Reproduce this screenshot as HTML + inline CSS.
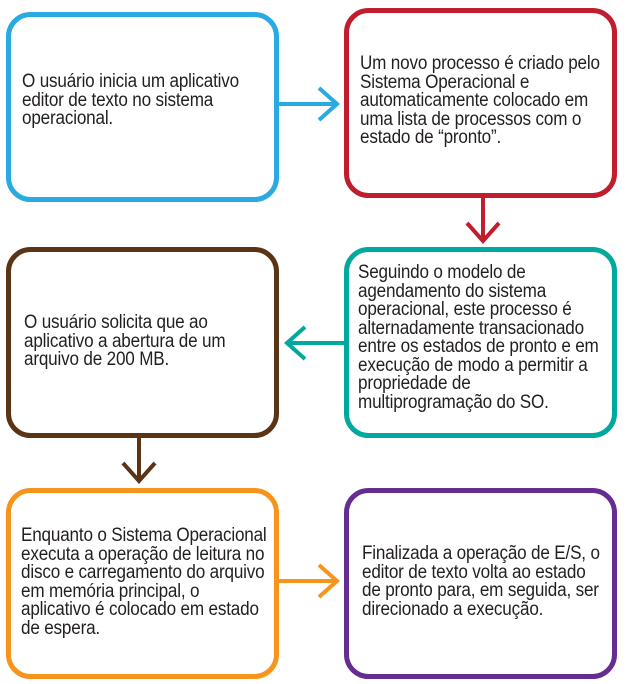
<!DOCTYPE html>
<html><head><meta charset="utf-8"><style>
body{margin:0;width:629px;height:684px;background:#fff;position:relative;overflow:hidden}
svg{position:absolute;left:0;top:0}
.t{position:absolute;font-family:"Liberation Sans",sans-serif;font-size:19px;line-height:18.5px;color:#231f20;letter-spacing:-0.2px;transform:scaleX(0.9);transform-origin:0 0;white-space:nowrap}
</style></head><body>
<svg width="629" height="684" viewBox="0 0 629 684" fill="none" stroke-width="5">
<rect x="8.5" y="14.5" width="268" height="185" rx="22" stroke="#29aae2"/>
<rect x="346.5" y="10.5" width="268" height="185" rx="22" stroke="#c01e2e"/>
<rect x="346.5" y="249.5" width="268" height="186" rx="22" stroke="#00a99d"/>
<rect x="8.5" y="249.5" width="268" height="186" rx="22" stroke="#5a3415"/>
<rect x="8.5" y="490.5" width="268" height="186" rx="22" stroke="#f7941d"/>
<rect x="346.5" y="490.5" width="268" height="186" rx="22" stroke="#662d91"/>
<g stroke-width="4" stroke-linecap="butt">
<path d="M278 104H337M319 88L337 104L319 120" stroke="#29aae2"/>
<path d="M483 198V241M467 223L483 241L499 223" stroke="#c01e2e"/>
<path d="M345 343H287M305 327L287 343L305 359" stroke="#00a99d"/>
<path d="M139 437V481M123 463L139 481L155 463" stroke="#5a3415"/>
<path d="M278 581H337M319 565L337 581L319 597" stroke="#f7941d"/>
</g>
</svg>
<div class="t" style="left:22px;top:73px">O usuário inicia um aplicativo<br>editor de texto no sistema<br>operacional.</div>
<div class="t" style="left:360px;top:55px">Um novo processo é criado pelo<br>Sistema Operacional e<br>automaticamente colocado em<br>uma lista de processos com o<br>estado de “pronto”.</div>
<div class="t" style="left:358px;top:264px">Seguindo o modelo de<br>agendamento do sistema<br>operacional, este processo é<br>alternadamente transacionado<br>entre os estados de pronto e em<br>execução de modo a permitir a<br>propriedade de<br>multiprogramação do SO.</div>
<div class="t" style="left:24px;top:314px">O usuário solicita que ao<br>aplicativo a abertura de um<br>arquivo de 200 MB.</div>
<div class="t" style="left:21px;top:527px">Enquanto o Sistema Operacional<br>executa a operação de leitura no<br>disco e carregamento do arquivo<br>em memória principal, o<br>aplicativo é colocado em estado<br>de espera.</div>
<div class="t" style="left:362px;top:545px">Finalizada a operação de E/S, o<br>editor de texto volta ao estado<br>de pronto para, em seguida, ser<br>direcionado a execução.</div>
</body></html>
